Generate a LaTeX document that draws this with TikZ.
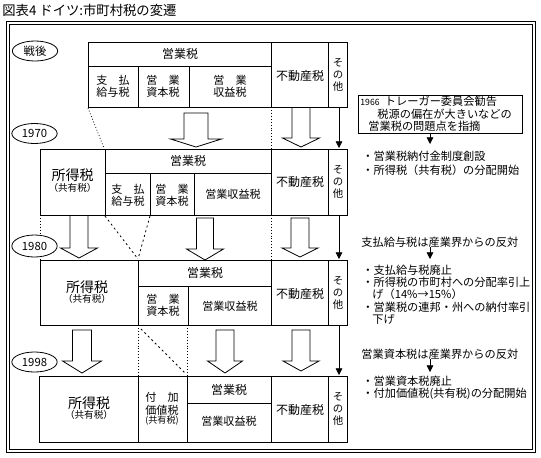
\documentclass[tikz,border=0pt]{standalone}
\usepackage{fontspec}
\setmainfont{Noto Sans CJK JP}
\usetikzlibrary{shapes.geometric,arrows.meta}
\newcommand\blkarrow[6]{% x, ytop, ybase, ytip, shaft half, head half
  \draw[fill=white] ({#1-#5},#2) -- ({#1-#5},#3) -- ({#1-#6},#3) -- (#1,#4) -- ({#1+#6},#3) -- ({#1+#5},#3) -- ({#1+#5},#2) -- cycle;}
\begin{document}
\begin{tikzpicture}[x=0.75pt,y=-0.75pt,line width=0.6pt,
  hd/.style={inner sep=0pt,font=\fontsize{9}{10}\selectfont},
  sm/.style={inner sep=0pt,align=center,font=\fontsize{8.3}{9}\selectfont},
  big/.style={inner sep=0pt,font=\fontsize{10.5}{11}\selectfont},
  par/.style={inner sep=0pt,font=\fontsize{7.2}{8}\selectfont},
  vt/.style={inner sep=0pt,align=center,font=\fontsize{7.8}{8.8}\selectfont},
  note/.style={inner sep=0pt,anchor=west,font=\fontsize{8.4}{9}\selectfont},
  era/.style={ellipse,draw,fill=white,inner sep=0pt,minimum width=34pt,minimum height=15pt,font=\fontsize{8.5}{9}\selectfont},
  dots/.style={dash pattern=on 0.6pt off 1.6pt},
  dashdot/.style={dash pattern=on 1.5pt off 2.2pt},
  thin/.style={-{Triangle[width=5pt,length=5pt]}}]
\useasboundingbox (0,0) rectangle (541,457);
% title
\node[anchor=west,inner sep=0pt,font=\fontsize{10}{10}\selectfont] (title) at (2,10) {図表4 ドイツ:市町村税の変遷};
% outer frame
\draw (6,21) rectangle (535,452);
\draw (9,24) rectangle (532,449);

% ---------- connectors between boxes (drawn first) ----------
\draw[dots] (88,108) -- (104,148);
\draw[dots] (271,107) -- (271,149);
\blkarrow{196}{113}{139}{147}{12}{25.5}
\blkarrow{301}{107}{138}{147}{9}{18.5}
\coordinate (o0) at (339,107); \coordinate (o1) at (339,148);
\draw[thin] (o0) -- (o1);

\draw[dots] (40,215) -- (40,260);
\draw[dashdot] (105,216) -- (138,259);
\draw[dashdot] (150,216) -- (138,259);
\draw[dots] (271,215) -- (271,260);
\blkarrow{79}{215}{248}{258}{9}{18.5}
\blkarrow{205}{218}{249}{260}{8.5}{18.5}
\blkarrow{300}{218}{248}{257}{9}{18}
\coordinate (o2) at (339,215); \coordinate (o3) at (339,259);
\draw[thin] (o2) -- (o3);

\draw[dots] (138,325) -- (138,376);
\draw[dots] (187,325) -- (187,376);
\draw[dashdot] (141,329) -- (186,374);
\blkarrow{82}{330}{361}{373}{9.5}{19.5}
\blkarrow{225}{330}{361}{373}{9}{17.5}
\blkarrow{301}{330}{361}{371}{9}{18}
\coordinate (o4) at (339,325); \coordinate (o5) at (339,375);
\draw[thin] (o4) -- (o5);

% ---------- era labels ----------
\node[era] (e0) at (35,51) {戦後};
\node[era] (e1) at (34.5,133.5) {1970};
\node[era,minimum height=16.5pt] (e2) at (34.5,246) {1980};
\node[era] (e3) at (34.5,362) {1998};

% ---------- post-war box ----------
\draw[fill=white] (88,42) rectangle (347,107);
\draw (88,66) -- (271,66);
\draw (138,66) -- (138,107);
\draw (189,66) -- (189,107);
\draw (271,42) -- (271,107);
\draw (328,42) -- (328,107);
\node[hd] (a1) at (180,54) {営業税};
\node[sm] (a2) at (113,86) {支　払\\給与税};
\node[sm] (a3) at (163,86) {営　業\\資本税};
\node[sm] (a4) at (230,86) {営　業\\収益税};
\node[hd] (a5) at (300,76) {不動産税};
\node[vt] (a6) at (338,75) {そ\\の\\他};

% ---------- 1970 box ----------
\draw[fill=white] (40,149) rectangle (347,215);
\draw (105,149) -- (105,215);
\draw (105,173) -- (271,173);
\draw (150,173) -- (150,215);
\draw (194,173) -- (194,215);
\draw (271,149) -- (271,215);
\draw (328,149) -- (328,215);
\node[big] (b1) at (72.5,175) {所得税};
\node[par] (b2) at (72.5,188) {（共有税）};
\node[hd] (b3) at (188,161) {営業税};
\node[sm] (b4) at (128,195) {支　払\\給与税};
\node[sm] (b5) at (172,195) {営　業\\資本税};
\node[sm] (b6) at (233,194) {営業収益税};
\node[hd] (b7) at (300,182) {不動産税};
\node[vt] (b8) at (338,182) {そ\\の\\他};

% ---------- 1980 box ----------
\draw[fill=white] (40,260) rectangle (347,325);
\draw (138,260) -- (138,325);
\draw (138,286) -- (271,286);
\draw (188,286) -- (188,325);
\draw (271,260) -- (271,325);
\draw (328,260) -- (328,325);
\node[big] (c1) at (87,287) {所得税};
\node[par] (c2) at (87,299) {（共有税）};
\node[hd] (c3) at (205,273) {営業税};
\node[sm] (c4) at (163,305) {営　業\\資本税};
\node[sm] (c5) at (230,306) {営業収益税};
\node[hd] (c6) at (300,294) {不動産税};
\node[vt] (c7) at (338,293) {そ\\の\\他};

% ---------- 1998 box ----------
\draw[fill=white] (39,376) rectangle (347,442);
\draw (138,376) -- (138,442);
\draw (187,376) -- (187,442);
\draw (187,403) -- (271,403);
\draw (271,376) -- (271,442);
\draw (328,376) -- (328,442);
\node[big] (d1) at (89,403) {所得税};
\node[par] (d2) at (89,415) {（共有税）};
\node[sm] (d3) at (162,397) {付　加};
\node[sm] (d4) at (162,410) {価値税};
\node[inner sep=0pt,font=\fontsize{6.8}{7}\selectfont] (d5) at (162,421) {(共有税)};
\node[hd] (d6) at (229,390) {営業税};
\node[sm] (d7) at (229,421) {営業収益税};
\node[hd] (d8) at (300,410) {不動産税};
\node[vt] (d9) at (338,409) {そ\\の\\他};

% ---------- right-hand notes ----------
\draw (358,95) rectangle (522,133);
\node[note] (n1) at (360,101.5) {{\fontsize{6.5}{7}\selectfont 1966}\hspace{4pt}トレーガー委員会勧告};
\node[note] (n2) at (377,114.2) {税源の偏在が大きいなどの};
\node[note] (n3) at (368,126.6) {営業税の問題点を指摘};
\coordinate (r0) at (430,133); \coordinate (r1) at (430,144);
\draw[thin] (r0) -- (r1);
\node[note] (n4) at (362,156) {・営業税納付金制度創設};
\node[note] (n5) at (362,170) {・所得税（共有税）の分配開始};

\node[note] (m0) at (361,242) {支払給与税は産業界からの反対};
\coordinate (r2) at (430,247); \coordinate (r3) at (430,259);
\draw[thin] (r2) -- (r3);
\node[note] (m1) at (362,270) {・支払給与税廃止};
\node[note] (m2) at (362,282) {・所得税の市町村への分配率引上};
\node[note] (m3) at (372,294) {げ（14\%→15\%）};
\node[note] (m4) at (362,307) {・営業税の連邦・州への納付率引};
\node[note] (m5) at (372,319) {下げ};

\node[note] (k0) at (361,354) {営業資本税は産業界からの反対};
\coordinate (r4) at (430,359); \coordinate (r5) at (430,372);
\draw[thin] (r4) -- (r5);
\node[note] (k1) at (362,381) {・営業資本税廃止};
\node[note] (k2) at (362,394) {・付加価値税(共有税)の分配開始};
\end{tikzpicture}
\end{document}
